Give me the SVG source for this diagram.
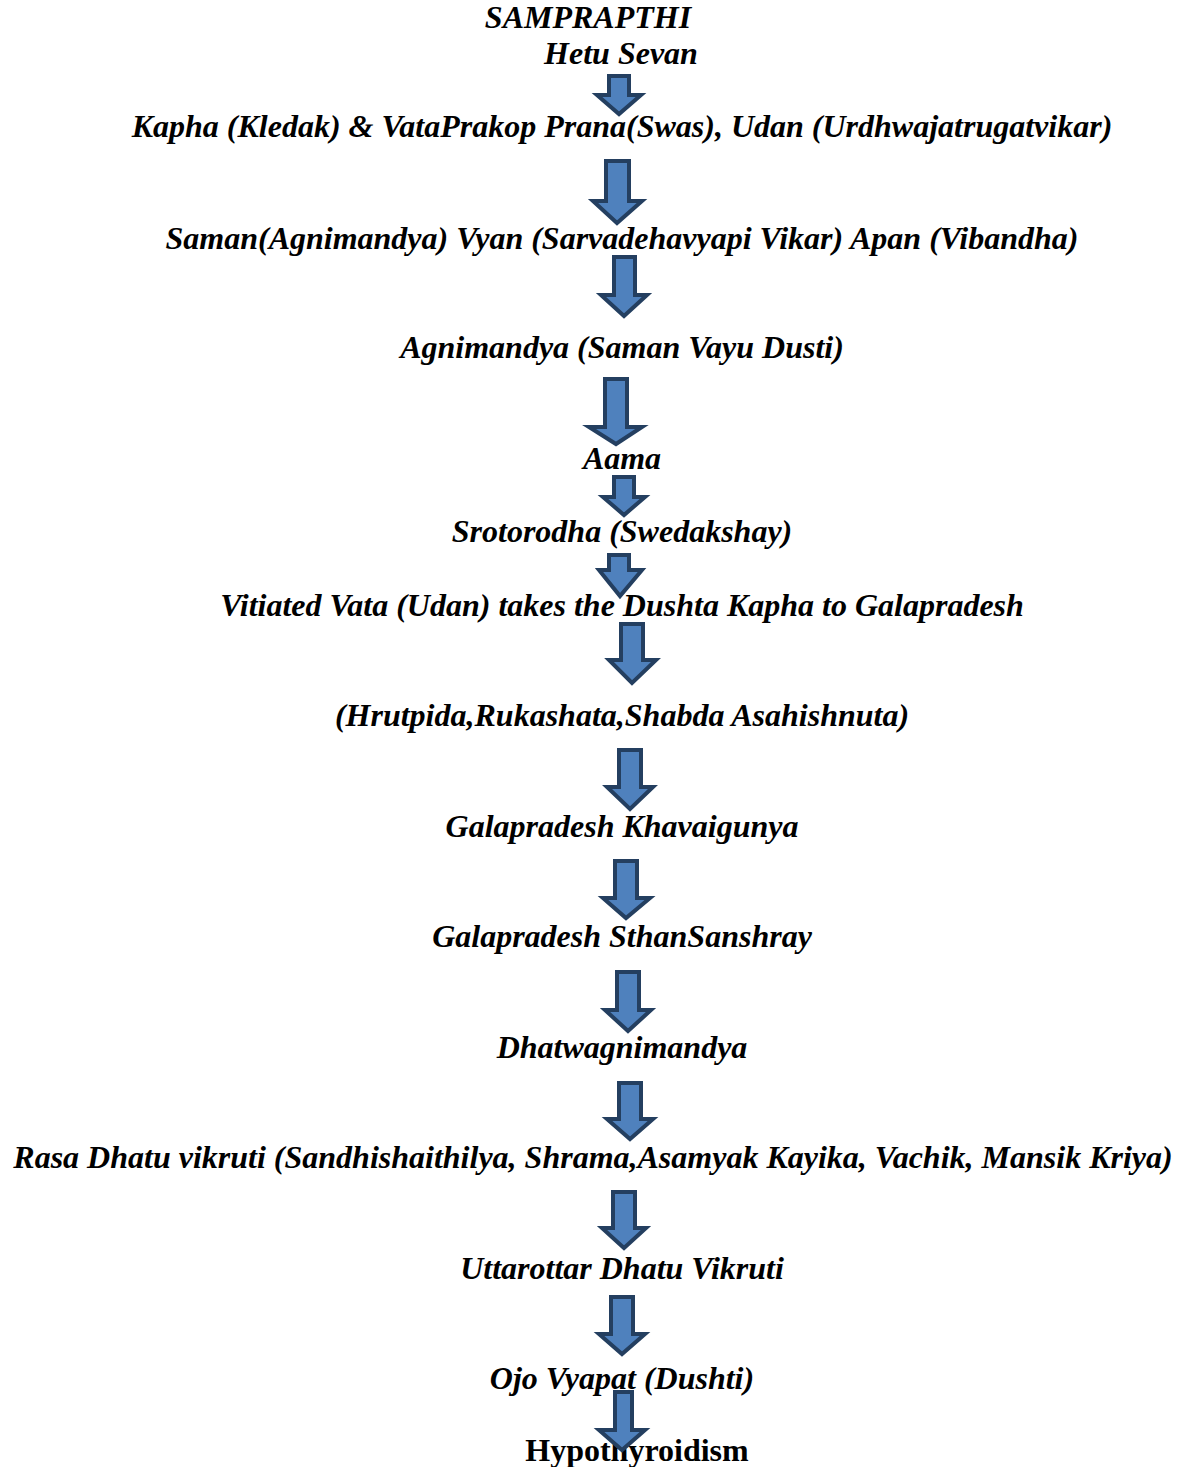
<svg xmlns="http://www.w3.org/2000/svg" width="1188" height="1467" viewBox="0 0 1188 1467">
<style>
.t{font-family:"Liberation Serif","Times New Roman",serif;font-size:32px;font-weight:bold;font-style:italic;fill:#000;text-anchor:middle}
.n{font-style:normal}
.a{fill:#4f81bd;stroke:#243f60;stroke-width:4;stroke-linejoin:miter}
</style>
<rect width="1188" height="1467" fill="#fff"/>
<g id="nodes">
<g id="n0"><text class="t" x="588" y="28">SAMPRAPTHI</text></g>
<g id="n1"><text class="t" x="621" y="64">Hetu Sevan</text></g>
<g id="n2"><text class="t" x="622" y="137">Kapha (Kledak) &amp; VataPrakop Prana(Swas), Udan (Urdhwajatrugatvikar)</text></g>
<g id="n3"><text class="t" x="622" y="249">Saman(Agnimandya) Vyan (Sarvadehavyapi Vikar) Apan (Vibandha)</text></g>
<g id="n4"><text class="t" x="622" y="358">Agnimandya (Saman Vayu Dusti)</text></g>
<g id="n5"><text class="t" x="622" y="469">Aama</text></g>
<g id="n6"><text class="t" x="622" y="542">Srotorodha (Swedakshay)</text></g>
<g id="n7"><text class="t" x="622" y="616">Vitiated Vata (Udan) takes the Dushta Kapha to Galapradesh</text></g>
<g id="n8"><text class="t" x="622" y="726">(Hrutpida,Rukashata,Shabda Asahishnuta)</text></g>
<g id="n9"><text class="t" x="622" y="837">Galapradesh Khavaigunya</text></g>
<g id="n10"><text class="t" x="622" y="947">Galapradesh SthanSanshray</text></g>
<g id="n11"><text class="t" x="622" y="1058">Dhatwagnimandya</text></g>
<g id="n12"><text class="t" x="593" y="1168">Rasa Dhatu vikruti (Sandhishaithilya, Shrama,Asamyak Kayika, Vachik, Mansik Kriya)</text></g>
<g id="n13"><text class="t" x="622" y="1279">Uttarottar Dhatu Vikruti</text></g>
<g id="n14"><text class="t" x="622" y="1389">Ojo Vyapat (Dushti)</text></g>
<g id="n15"><text class="t n" x="637" y="1461">Hypothyroidism</text></g>
</g>
<g id="connectors">
<polygon class="a" points="609,76 629,76 629,95 641,95 619,114 597,95 609,95"/>
<polygon class="a" points="606,161 629,161 629,201 642,201 617,223 593,201 606,201"/>
<polygon class="a" points="614,257 635,257 635,295 647,295 624,316 601,295 614,295"/>
<polygon class="a" points="605,379 627,379 627,427 642,427 616,444 589,427 605,427"/>
<polygon class="a" points="614,477 634,477 634,497 645,497 624,515 603,497 614,497"/>
<polygon class="a" points="609,555 629,555 629,570 642,570 620,596 599,570 609,570"/>
<polygon class="a" points="621,624 643,624 643,660 656,660 632,683 609,660 621,660"/>
<polygon class="a" points="619,750 641,750 641,787 653,787 630,809 607,787 619,787"/>
<polygon class="a" points="615,861 637,861 637,898 650,898 626,918 603,898 615,898"/>
<polygon class="a" points="617,972 639,972 639,1010 651,1010 628,1031 605,1010 617,1010"/>
<polygon class="a" points="619,1083 641,1083 641,1119 653,1119 630,1139 607,1119 619,1119"/>
<polygon class="a" points="613,1192 635,1192 635,1228 646,1228 624,1248 602,1228 613,1228"/>
<polygon class="a" points="611,1297 633,1297 633,1334 645,1334 622,1354 599,1334 611,1334"/>
<polygon class="a" points="615,1392 632,1392 632,1430 645,1430 622,1450 599,1430 615,1430"/>
</g>
</svg>
